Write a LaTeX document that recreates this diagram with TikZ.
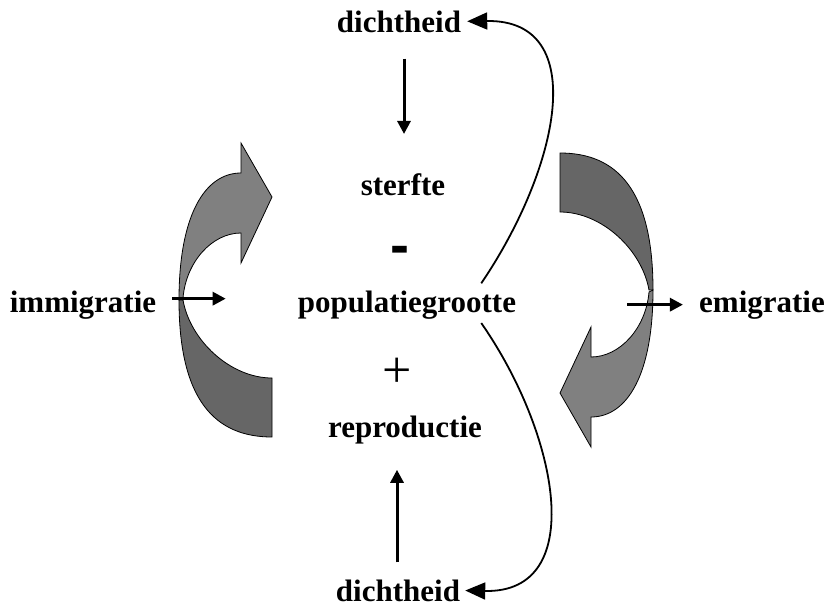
\documentclass[tikz,border=0pt]{standalone}
\usepackage{fontspec}
\setmainfont{Liberation Serif}
\newfontfamily\arialfont{Liberation Sans}
\usetikzlibrary{arrows.meta}
\definecolor{headgray}{RGB}{128,128,128}
\definecolor{tailgray}{RGB}{102,102,102}
% curved block arrow (head at the top, pointing right)
\newcommand{\blockarrow}{%
	\filldraw[fill=tailgray,line width=0.8pt] (179,300) .. controls (179,400) and (215,437) .. (272,437) -- (272,378) .. controls (230,378) and (190,340) .. (183,300) -- cycle;
	\filldraw[fill=headgray,line width=0.8pt] (179,300) .. controls (179,215) and (205,173) .. (241,173) -- (241,143) -- (272,197) -- (241,263) -- (241,233) .. controls (212,233) and (186,262) .. (183,298) -- cycle;
}
\begin{document}
\begin{tikzpicture}[x=1pt,y=-1pt,
	lbl/.style={font=\bfseries\fontsize{31}{31}\selectfont,inner sep=0pt,anchor=base},
	arr/.style={line width=3pt,-{Triangle[length=13pt,width=13pt]}},
	feedback/.style={line width=1.8pt,-{Triangle[length=20pt,width=17pt]}}]
	\useasboundingbox (0,0) rectangle (827,608);
	\blockarrow
	\begin{scope}[shift={(832,590)},rotate=180]
		\blockarrow
	\end{scope}
	\node[lbl] (dtop) at (399,32) {dichtheid};
	\node[lbl] (sterfte) at (403,195) {sterfte};
	\node[lbl] (pop) at (407,312) {populatiegrootte};
	\node[lbl] (repr) at (405,437) {reproductie};
	\node[lbl] (dbot) at (398,601) {dichtheid};
	\node[lbl] (immi) at (83,312) {immigratie};
	\node[lbl] (emi) at (762,312) {emigratie};
	\node[font=\arialfont\bfseries\fontsize{57}{57}\selectfont,inner sep=0pt,anchor=base] (minus) at (400,264) {-};
	\node[font=\fontsize{52}{52}\selectfont,inner sep=0pt] (plus) at (397,373) {+};
	\draw[arr,shorten <=26pt,shorten >=39pt] ([xshift=5pt]dtop.south) -- ([xshift=5pt]dtop.south |- sterfte.north);
	\draw[arr,shorten <=17pt,shorten >=26pt] ([xshift=-1pt]dbot.north) -- ([xshift=-1pt]dbot.north |- repr.south);
	\draw[arr,shorten <=16pt,shorten >=72pt] ([yshift=6pt]immi.east) -- ([yshift=6pt]pop.west);
	\draw[arr,shorten <=111pt,shorten >=16pt] (pop.east) -- (emi.west);
	\draw[feedback,shorten >=6pt] ([xshift=-35pt,yshift=7pt]pop.north east) .. controls +(78,-115) and +(130,-2) .. (dtop.east);
	\draw[feedback,shorten >=5pt] ([xshift=-35pt,yshift=-4pt]pop.south east) .. controls +(78,112) and +(128,3) .. (dbot.east);
\end{tikzpicture}
\end{document}
